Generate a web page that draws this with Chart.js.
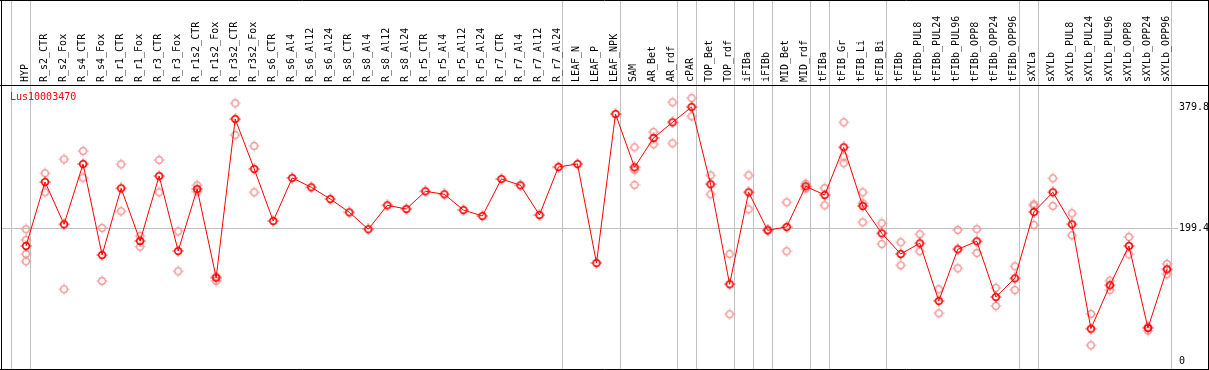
<!DOCTYPE html>
<html>
<head>
<meta charset="utf-8">
<script src="https://cdn.jsdelivr.net/npm/chart.js@4/dist/chart.umd.min.js"></script>
<style>
  html, body { margin: 0; padding: 0; background: #fff; }
  #wrap { width: 1209px; height: 370px; }
</style>
</head>
<body>
<div id="wrap"><canvas id="exprChart" width="1209" height="370"></canvas></div>
<script>
// Expression profile for one gene across tissues
const geneName = 'Lus10003470';

const categories = [
    'HYP', 'R_s2_CTR', 'R_s2_Fox', 'R_s4_CTR', 'R_s4_Fox', 'R_r1_CTR', 'R_r1_Fox',
    'R_r3_CTR', 'R_r3_Fox', 'R_r1s2_CTR', 'R_r1s2_Fox', 'R_r3s2_CTR', 'R_r3s2_Fox',
    'R_s6_CTR', 'R_s6_Al4', 'R_s6_Al12', 'R_s6_Al24', 'R_s8_CTR', 'R_s8_Al4', 'R_s8_Al12',
    'R_s8_Al24', 'R_r5_CTR', 'R_r5_Al4', 'R_r5_Al12', 'R_r5_Al24', 'R_r7_CTR', 'R_r7_Al4',
    'R_r7_Al12', 'R_r7_Al24', 'LEAF_N', 'LEAF_P', 'LEAF_NPK', 'SAM', 'AR_Bet', 'AR_rdf',
    'cPAR', 'TOP_Bet', 'TOP_rdf', 'iFIBa', 'iFIBb', 'MID_Bet', 'MID_rdf', 'tFIBa',
    'tFIB_Gr', 'tFIB_Li', 'tFIB_Bi', 'tFIBb', 'tFIBb_PUL8', 'tFIBb_PUL24', 'tFIBb_PUL96',
    'tFIBb_OPP8', 'tFIBb_OPP24', 'tFIBb_OPP96', 'sXYLa', 'sXYLb', 'sXYLb_PUL8',
    'sXYLb_PUL24', 'sXYLb_PUL96', 'sXYLb_OPP8', 'sXYLb_OPP24', 'sXYLb_OPP96'
];

// mean value per sample
const meanValues = [
    172.6, 268.0, 204.9, 294.8, 159.1, 258.6, 180.0, 276.9, 165.1, 257.5, 125.3, 361.9, 287.4,
    209.8, 274.0, 260.1, 242.6, 222.8, 197.5, 233.2, 227.7, 254.1, 249.6, 226.2, 217.3,
    272.5, 263.1, 218.8, 290.4, 294.8, 147.2, 369.4, 289.9, 333.6, 357.0, 379.8, 264.6,
    115.5, 252.6, 196.0, 200.9, 261.6, 248.6, 319.7, 232.2, 191.5, 160.6, 176.6, 90.6,
    167.6, 179.6, 96.5, 124.4, 223.3, 252.6, 204.9, 49.2, 114.0, 172.6, 50.3, 137.8
];

// individual replicates per sample
const replicates = [
    [197.5, 181.5, 160.6, 149.7], [281.0, 252.6], [301.8, 108.0], [314.2, 274.4],
    [199.4, 120.4], [294.4, 224.3], [187.5, 171.5], [300.8, 252.6], [194.5, 134.8],
    [263.1, 253.5], [126.8, 120.4], [385.3, 338.1], [321.7, 252.6],
    [], [], [], [], [], [], [], [], [], [], [], [], [], [], [], [], [], [], [],
    [319.7, 263.5, 285.9], [342.5, 324.2], [386.8, 325.7], [393.2, 365.9],
    [278.0, 249.6], [160.6, 70.7], [278.0, 227.3], [196.9], [237.7, 164.7],
    [265.5, 258.0], [259.0, 233.2], [357.0, 305.7, 295.9], [252.6, 207.9, 236.2],
    [206.4, 175.5], [178.1, 143.8], [190.0, 164.7], [108.0, 72.2], [196.4, 139.3],
    [197.5, 162.1], [110.0, 83.1], [142.3, 106.9], [234.7, 232.6, 203.9],
    [273.5, 232.2], [221.3, 188.5], [71.2, 24.5], [120.8, 106.9], [186.0, 160.2],
    [52.2, 46.3], [145.7, 130.4]
];

const yTickLabels = ['0', '199.4', '379.8'];
const yTickValues = [0, 199.4, 379.8];
const midLineValue = 199.4;

// group separators: drawn just after these sample indexes
const groupEnds = [-1, 0, 28, 31, 34, 35, 37, 38, 39, 41, 42, 45, 52, 53, 60];

const FONT = '10px "DejaVu Sans Mono", monospace';

function makeMarker(color, lineWidth) {
    const c = document.createElement('canvas');
    c.width = 12;
    c.height = 12;
    const g = c.getContext('2d');
    g.strokeStyle = color;
    g.lineWidth = lineWidth;
    g.beginPath();
    g.arc(6, 6, 3.3, 0, Math.PI * 2);
    g.stroke();
    g.lineWidth = 1;
    g.beginPath();
    g.moveTo(6, 0.5); g.lineTo(6, 2.2);
    g.moveTo(6, 9.8); g.lineTo(6, 11.5);
    g.moveTo(0.5, 6); g.lineTo(2.2, 6);
    g.moveTo(9.8, 6); g.lineTo(11.5, 6);
    g.stroke();
    return c;
}

const mainPoints = meanValues.map((v, i) => ({ x: i, y: v }));
const repPoints = [];
replicates.forEach((list, i) => {
    list.forEach(v => repPoints.push({ x: i, y: v }));
});

// frame, labels and dividers
const decorations = {
    id: 'decorations',
    beforeDatasetsDraw(chart) {
        const ctx = chart.ctx;
        const xs = chart.scales.x;
        const ys = chart.scales.y;
        const area = chart.chartArea;
        ctx.save();
        ctx.strokeStyle = '#c0c0c0';
        ctx.lineWidth = 1;
        groupEnds.forEach(i => {
            const x = Math.round(xs.getPixelForValue(i)) + 4.5;
            ctx.beginPath();
            ctx.moveTo(x, 0);
            ctx.lineTo(x, area.bottom);
            ctx.stroke();
        });
        const ym = Math.round(ys.getPixelForValue(midLineValue)) + 0.5;
        ctx.beginPath();
        ctx.moveTo(area.left, ym);
        ctx.lineTo(xs.getPixelForValue(60) + 11, ym);
        ctx.stroke();
        ctx.restore();
    },
    afterDatasetsDraw(chart) {
        const ctx = chart.ctx;
        const xs = chart.scales.x;
        const ys = chart.scales.y;
        const area = chart.chartArea;
        ctx.save();
        ctx.strokeStyle = '#000';
        ctx.lineWidth = 1;
        ctx.beginPath();
        ctx.moveTo(0, 0.5); ctx.lineTo(chart.width, 0.5);
        ctx.moveTo(0, area.top + 0.5); ctx.lineTo(chart.width, area.top + 0.5);
        ctx.moveTo(0, area.bottom + 0.5); ctx.lineTo(chart.width, area.bottom + 0.5);
        ctx.moveTo(area.left + 0.5, 0); ctx.lineTo(area.left + 0.5, chart.height);
        ctx.moveTo(area.right + 0.5, 0); ctx.lineTo(area.right + 0.5, chart.height);
        ctx.stroke();

        ctx.font = FONT;
        ctx.fillStyle = '#000';
        ctx.textBaseline = 'middle';
        ctx.textAlign = 'left';
        categories.forEach((name, i) => {
            ctx.save();
            ctx.translate(xs.getPixelForValue(i) - 1, area.top - 3);
            ctx.rotate(-Math.PI / 2);
            ctx.fillText(name, 0, 0);
            ctx.restore();
        });

        const tx = xs.getPixelForValue(60) + 12;
        yTickValues.forEach((v, i) => {
            ctx.fillText(yTickLabels[i], tx, ys.getPixelForValue(v));
        });

        ctx.fillStyle = '#ff0000';
        ctx.fillText(geneName, area.left + 9, area.top + 12);
        ctx.restore();
    }
};

document.addEventListener('DOMContentLoaded', function() {
    const ctx = document.getElementById('exprChart').getContext('2d');
    if (typeof Chart === 'undefined') {
        console.error('Chart.js is not loaded.');
        return;
    }
    new Chart(ctx, {
        type: 'scatter',
        data: {
            datasets: [{
                label: 'mean',
                data: mainPoints,
                showLine: true,
                borderColor: '#ff0000',
                borderWidth: 1,
                pointStyle: makeMarker('#ff0000', 1.6),
                order: 0
            }, {
                label: 'replicates',
                data: repPoints,
                showLine: false,
                pointStyle: makeMarker('#f09090', 1.3),
                order: 1
            }]
        },
        options: {
            responsive: false,
            animation: false,
            layout: { autoPadding: false, padding: { left: 1, top: 85, right: 1, bottom: 1 } },
            scales: {
                x: { type: 'linear', display: false, min: -1.3158, max: 62.158 },
                y: { type: 'linear', display: false, min: -10.9, max: 412.6 }
            },
            plugins: {
                legend: { display: false },
                tooltip: { enabled: false }
            }
        },
        plugins: [decorations]
    });
});
</script>
</body>
</html>
